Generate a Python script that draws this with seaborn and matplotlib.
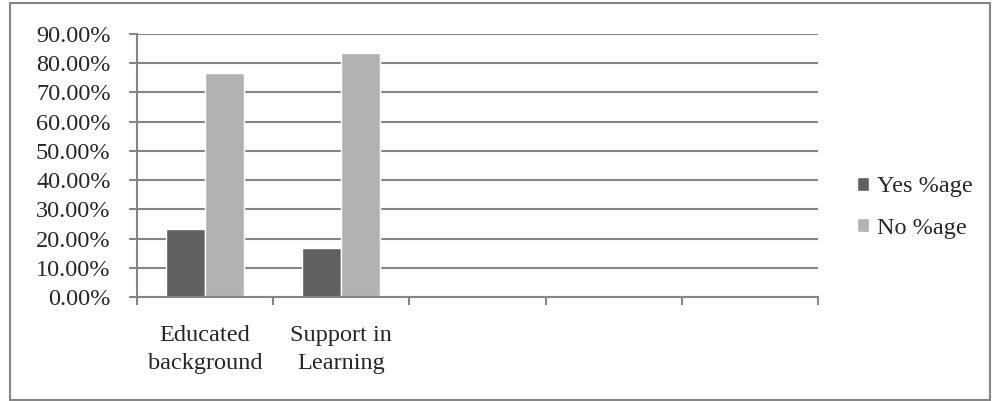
import pandas as pd
import matplotlib.pyplot as plt
import seaborn as sns
from matplotlib.patches import Rectangle

categories = ['Educated\nbackground', 'Support in\nLearning']
yes_pct = [23.33, 16.67]
no_pct = [76.67, 83.33]
series = ['Yes %age', 'No %age']
colors = ['#606060', '#b2b2b2']
yticks = [0, 10, 20, 30, 40, 50, 60, 70, 80, 90]

df = pd.DataFrame({
    'cat': categories * 2,
    'val': yes_pct + no_pct,
    'series': [series[0]] * 2 + [series[1]] * 2,
})

sns.set_style('white')
plt.rcParams['font.family'] = ['Liberation Serif', 'DejaVu Serif']
fs = 17.5

fig = plt.figure(figsize=(9.92, 4.01), dpi=100)
ax = fig.add_axes([137 / 992, 1 - 297 / 401, (818 - 137) / 992, (297 - 34) / 401])

sns.barplot(data=df, x='cat', y='val', hue='series', order=categories,
            palette=colors, width=0.575, saturation=1, ax=ax, legend=True)

ax.set_xlim(-0.5, 4.5)
ax.set_ylim(0, 90)
ax.set_yticks(yticks)
ax.set_yticklabels([f'{v:.2f}%' for v in yticks], fontsize=fs)
ax.yaxis.grid(True, color='#868686', linewidth=1.5)
ax.set_axisbelow(True)

ax.set_xticks([i - 0.5 for i in range(6)])
ax.set_xticklabels([])
ax.set_xticks(range(len(categories)), minor=True)
ax.set_xticklabels(categories, minor=True, fontsize=fs, linespacing=1.45)
ax.tick_params(axis='x', which='minor', length=0, pad=20)
ax.tick_params(axis='both', which='major', length=6, width=1.5, color='#868686',
               direction='out', bottom=True, left=True)
ax.tick_params(axis='y', pad=13)
ax.set_xlabel('')
ax.set_ylabel('')

for side in ['top', 'right']:
    ax.spines[side].set_visible(False)
for side in ['left', 'bottom']:
    ax.spines[side].set_color('#868686')
    ax.spines[side].set_linewidth(1.5)

leg = ax.legend(loc='center left', bbox_to_anchor=(1.025, 0.34), frameon=False,
                fontsize=fs, handlelength=0.5, handleheight=0.5,
                handletextpad=0.33, labelspacing=0.85)

fig.patches.append(Rectangle((10 / 992, 1 / 401), 980 / 992, 397 / 401,
                             transform=fig.transFigure, fill=False,
                             edgecolor='#868686', linewidth=1.5))

fig.savefig('out.png', dpi=100)
